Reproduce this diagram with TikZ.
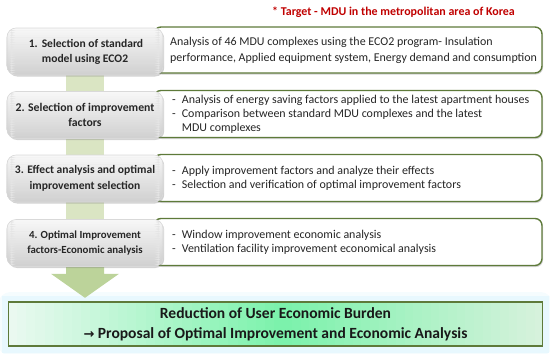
\documentclass[tikz,border=0pt]{standalone}
\usepackage{fontspec}
\setmainfont{Carlito}
\newfontfamily\arrowfont{DejaVu Sans}
\usetikzlibrary{shadows,backgrounds,calc}
\definecolor{olivebd}{HTML}{5E7A3A}
\definecolor{barfill}{HTML}{DAE5C3}
\definecolor{arrowfill}{HTML}{BCD39A}
\definecolor{txt}{HTML}{262626}
\definecolor{tred}{HTML}{C00000}
\definecolor{resleft}{HTML}{EAF9F0}
\definecolor{resmid}{HTML}{7CF2AC}
\definecolor{resright}{HTML}{D6F2DC}
\tikzset{
  lbox/.style={rounded corners=9bp, minimum width=156bp, minimum height=47bp,
    fill=gray!20, draw=gray!30, line width=0.6bp,
    drop shadow={shadow xshift=1.2bp, shadow yshift=-1.5bp, opacity=0.35},
    path picture={
      \foreach \i [evaluate=\i as \c using {6+30*\i/19}] in {0,...,19}
        \fill[gray!\c] ($(path picture bounding box.north west)!\i/20!(path picture bounding box.south west)$)
          rectangle ($(path picture bounding box.north east)!{(\i+1.1)/20}!(path picture bounding box.south east)$);
    },
    font=\fontsize{11.8}{15.5}\selectfont\bfseries, text=txt, align=center, inner sep=0bp},
  rbox/.style={rounded corners=7bp, fill=white, draw=olivebd, line width=1.4bp,
    drop shadow={shadow xshift=1bp, shadow yshift=-1.5bp, opacity=0.35},
    minimum width=388bp, inner sep=0bp},
  rtext/.style={anchor=west, align=left, text=txt, inner sep=0bp,
    font=\fontsize{12}{14}\selectfont},
  bar/.style={line width=38bp, draw=barfill},
}
\begin{document}
\begin{tikzpicture}[x=1bp,y=-1bp]
\useasboundingbox (0,0) rectangle (550,353);
% target
\node[text=tred, font=\fontsize{12}{14}\selectfont\bfseries, anchor=west, inner sep=0bp] (target) at (272,12) {* Target - MDU in the metropolitan area of Korea};
% right boxes
\node[rbox, minimum height=46bp] (r1) at (348,50) {};
\node[rbox, minimum height=47bp] (r2) at (348,114) {};
\node[rbox, minimum height=47bp] (r3) at (348,178) {};
\node[rbox, minimum height=47bp] (r4) at (348,242) {};
% left boxes
\node[lbox, font=\fontsize{11.6}{15}\selectfont\bfseries] (l1) at (85,51.5) {\hspace*{2bp}1.\hspace{4bp}Selection of standard\\model using ECO2};
\node[lbox] (l2) at (85,115) {2. Selection of improvement\\factors};
\node[lbox, font=\fontsize{11.6}{15.5}\selectfont\bfseries] (l3) at (85,178.5) {3. Effect analysis and optimal\\improvement selection};
\node[lbox, font=\fontsize{10.9}{15}\selectfont\bfseries] (l4) at (85,243) {4. Optimal Improvement\\factors-Economic analysis};
% texts
\node[rtext, font=\fontsize{12}{15.5}\selectfont] (t1) at (170,50.5) {Analysis of 46 MDU complexes using the ECO2 program- Insulation\\performance, Applied equipment system, Energy demand and consumption};
\node[rtext] (t2) at (172,114) {-\enspace Analysis of energy saving factors applied to the latest apartment houses\\-\enspace Comparison between standard MDU complexes and the latest\\\phantom{-\enspace}MDU complexes};
\node[rtext] (t3) at (172,178) {-\enspace Apply improvement factors and analyze their effects\\-\enspace Selection and verification of optimal improvement factors};
\node[rtext] (t4) at (172,242) {-\enspace Window improvement economic analysis\\-\enspace Ventilation facility improvement economical analysis};
% bottom box
\node[draw=olivebd, line width=1.5bp,
  minimum width=534bp, minimum height=44bp, inner sep=0bp, align=center, text=black!90,
  font=\fontsize{15.6}{20}\selectfont\bfseries] (res) at (275.5,324) {Reduction of User Economic Burden\\{\arrowfont\bfseries\fontsize{13}{20}\selectfont →} Proposal of Optimal Improvement and Economic Analysis};
\begin{scope}[on background layer]
% glow
\node[draw=cyan!4, line width=14bp, rounded corners=6bp, minimum width=541bp, minimum height=50bp, inner sep=0bp] (glow2) at (res.center) {};
\node[draw=cyan!9, line width=7bp, minimum width=540bp, minimum height=50bp, inner sep=0bp] (glow) at (res.center) {};
% gradient fill in strips
\coordinate (resm) at ($(res.south)+(8,0)$);
\coordinate (resmn) at (resm |- res.north);
\foreach \i [evaluate=\i as \p using {100*\i/29}] in {0,...,29}
  \fill[resmid!\p!resleft] ($(res.north west)!\i/30!(resmn)$) rectangle ($(res.south west)!{(\i+1.1)/30}!(resm)$);
\foreach \i [evaluate=\i as \p using {100*\i/29}] in {0,...,29}
  \fill[resright!\p!resmid] ($(resmn)!\i/30!(res.north east)$) rectangle ($(resm)!{min(1,(\i+1.1)/30)}!(res.south east)$);
% connectors
\draw[bar] (l1.south) -- (l2.north);
\draw[bar] (l2.south) -- (l3.north);
\draw[bar] (l3.south) -- (l4.north);
\coordinate (tip) at ($(l4.south)+(0,31)$);
\fill[arrowfill] ($(l4.south)+(-19,0)$) -- ($(tip)+(-19,-24)$) -- ($(tip)+(-34,-24)$) -- (tip) -- ($(tip)+(34,-24)$) -- ($(tip)+(19,-24)$) -- ($(l4.south)+(19,0)$) -- cycle;
\end{scope}
\end{tikzpicture}
\end{document}
